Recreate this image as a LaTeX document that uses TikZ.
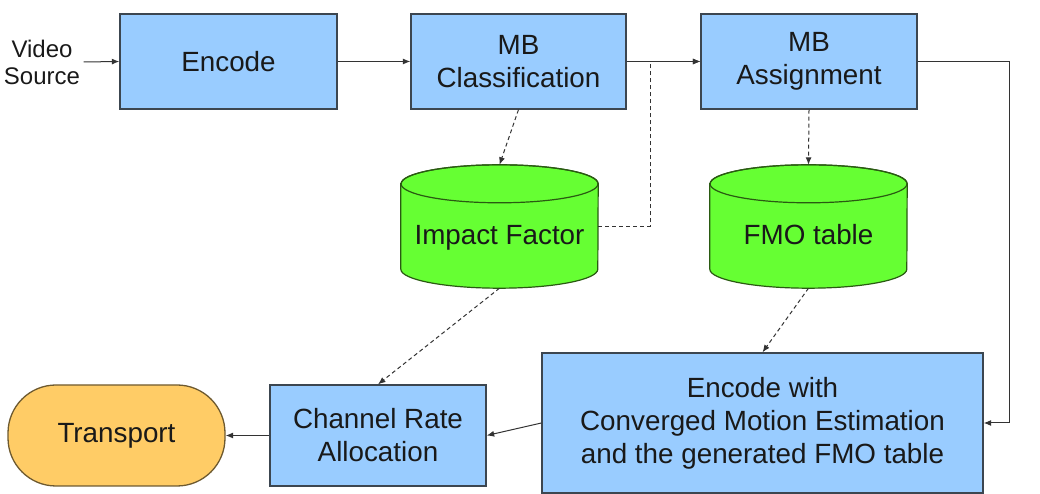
\documentclass[tikz,border=0pt]{standalone}
\usepackage{fontspec}
\setmainfont{Liberation Sans}
\usetikzlibrary{arrows.meta,backgrounds,calc}
\definecolor{boxblue}{HTML}{99CCFF}
\definecolor{boxedge}{HTML}{3C4650}
\definecolor{cylgreen}{HTML}{66FF33}
\definecolor{cyledge}{HTML}{2A5A12}
\definecolor{trfill}{HTML}{FFCC66}
\definecolor{tredge}{HTML}{6E5A30}
\definecolor{linegray}{HTML}{333333}
\tikzset{
  every node/.style={font=\fontsize{27.8}{33}\selectfont, text=black!90, align=center},
  procbox/.style={draw=boxedge, fill=boxblue, line width=1.3pt, inner sep=0pt},
  cylnode/.style={inner sep=0pt, minimum width=197pt, minimum height=123pt, text height=37pt, text depth=0pt},
  termbox/.style={draw=tredge, fill=trfill, line width=1.3pt, rounded corners=48pt, inner sep=0pt, minimum width=217pt, minimum height=101pt},
  arr/.style={draw=linegray, line width=1pt, -{Latex[length=7.5pt,width=6pt]}},
  dasharr/.style={arr, dash pattern=on 4pt off 3pt},
}
\newcommand{\cylshape}[1]{%
  \path[fill=cylgreen, draw=cyledge, line width=1.2pt]
    ($(#1.north west)+(0,-19)$) -- ($(#1.south west)+(0,19)$)
    arc[start angle=180, end angle=360, x radius=98.5pt, y radius=19pt]
    -- ($(#1.north east)+(0,-19)$)
    arc[start angle=0, end angle=180, x radius=98.5pt, y radius=19pt] -- cycle;
  \draw[cyledge, line width=1.2pt] ($(#1.north)+(0,-19)$) ellipse[x radius=98.5pt, y radius=19pt];
}
\begin{document}
\begin{tikzpicture}[x=1pt,y=1pt]
\useasboundingbox (0,0) rectangle (1040,494);
% top row
\node[font=\fontsize{24}{27}\selectfont] (vs) at (42,432) {Video\\Source};
\node[procbox, minimum width=217pt, minimum height=95pt] (enc) at (228.5,432.5) {Encode};
\node[procbox, minimum width=215pt, minimum height=95pt] (mbc) at (518.5,432.5) {MB\\Classification};
\node[procbox, minimum width=216pt, minimum height=95pt] (mba) at (809,432.5) {MB\\Assignment};
% cylinders
\node[cylnode] (imp) at (499.5,267.5) {Impact Factor};
\node[cylnode] (fmo) at (808.5,267.5) {FMO table};
\begin{scope}[on background layer]
  \cylshape{imp}
  \cylshape{fmo}
\end{scope}
% bottom row
\node[procbox, minimum width=441pt, minimum height=140pt] (encw) at (762.5,71) {Encode with\\Converged Motion Estimation\\and the generated FMO table};
\node[procbox, minimum width=216pt, minimum height=101pt] (ch) at (378,58.5) {Channel Rate\\Allocation};
\node[termbox] (tr) at (116.5,58.5) {Transport};
% connectors
\draw[arr] (vs.east) -- (enc.west);
\draw[arr] (enc.east) -- (mbc.west);
\draw[arr] (mbc.east) -- (mba.west);
\draw[dasharr] (imp.east) -- ++(52,0) |- (mba.west);
\draw[dasharr] (mbc.south) -- (imp.north);
\draw[dasharr] (mba.south) -- (fmo.north);
\draw[dasharr] (imp.south) -- (ch.north);
\draw[dasharr] (fmo.south) -- (encw.north);
\draw[arr] (mba.east) -- ++(92,0) |- (encw.east);
\draw[arr] (encw.west) -- (ch.east);
\draw[arr] (ch.west) -- (tr.east);
\end{tikzpicture}
\end{document}
